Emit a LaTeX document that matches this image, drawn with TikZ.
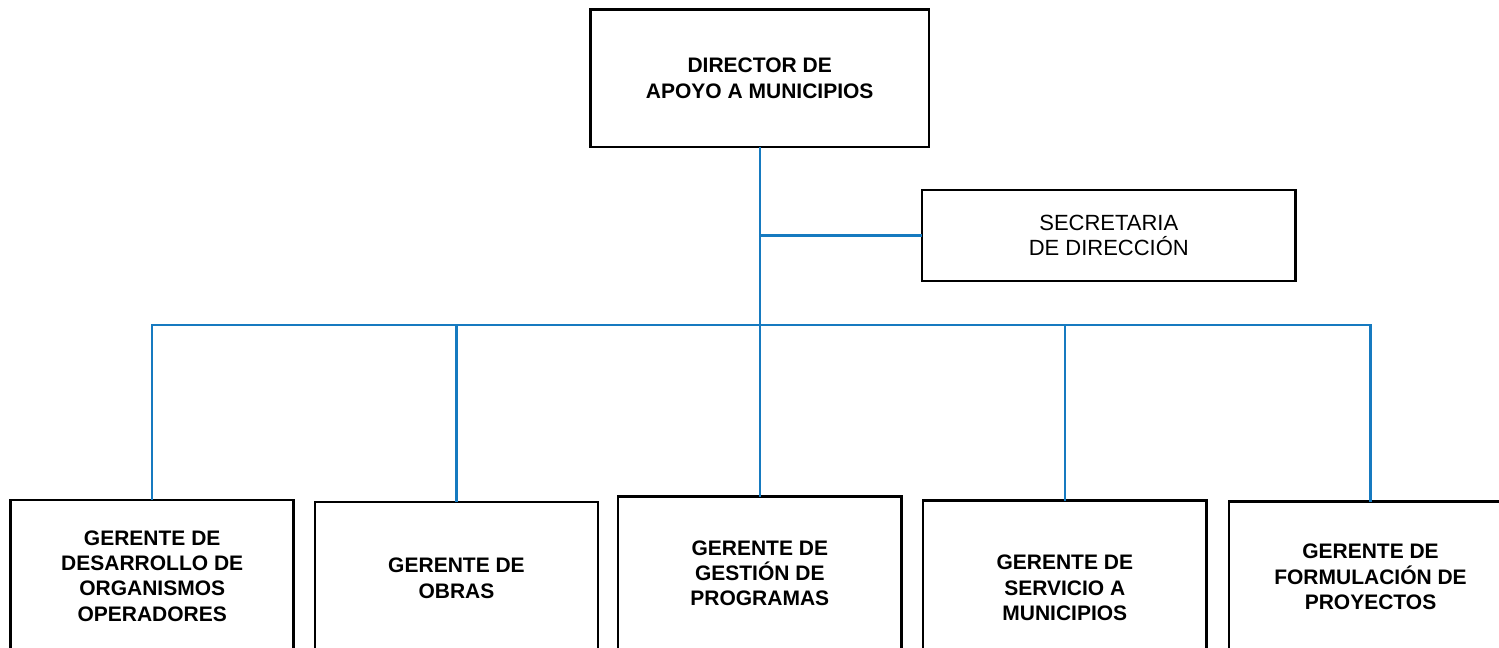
\documentclass[tikz,border=0pt]{standalone}
\usepackage{fontspec}
\setmainfont{Liberation Sans}
\definecolor{linkblue}{RGB}{22,122,192}
\begin{document}
\begin{tikzpicture}[x=0.75pt,y=-0.75pt,
  box/.style 2 args={draw=black,line width=2pt,rectangle,align=center,
    inner sep=0pt,outer sep=0pt,
    minimum width={#1*0.75pt},minimum height={#2*0.75pt}},
  boldtext/.style={font=\fontsize{15.75}{19.1}\selectfont\bfseries},
  regtext/.style={font=\fontsize{16.5}{19}\selectfont},
  link/.style={draw=linkblue,line width=1.7pt}]
\useasboundingbox (0,0) rectangle (1499,648);
\node[box={338.5}{137.5},boldtext] (dir) at (759.7,78.4) {DIRECTOR DE\\APOYO A MUNICIPIOS};
\node[box={373.7}{91},regtext] (sec) at (1108.8,235.5) {SECRETARIA\\DE DIRECCIÓN};
\node[box={283}{152},boldtext] (g1) at (152.2,576) {GERENTE DE\\DESARROLLO DE\\ORGANISMOS\\OPERADORES};
\node[box={283}{153},boldtext] (g2) at (456.5,578.5) {GERENTE DE\\OBRAS};
\node[box={283.7}{153.2},boldtext] (g3) at (759.8,573.3) {GERENTE DE\\GESTIÓN DE\\PROGRAMAS};
\node[box={283.5}{174.6},boldtext] (g4) at (1064.8,588) {GERENTE DE\\SERVICIO A\\MUNICIPIOS};
\node[box={283}{150.6},boldtext] (g5) at (1370.5,577) {GERENTE DE\\FORMULACIÓN DE\\PROYECTOS};
\coordinate (bus) at (760,325);
\draw[link] (dir.south) -- (dir.south |- g3.north);
\draw[link] (dir.south |- sec.west) -- (sec.west);
\draw[link] (g1.north) |- (bus);
\draw[link] (g2.north) |- (bus);
\draw[link] (g4.north) |- (bus);
\draw[link] (g5.north) |- (bus);
\end{tikzpicture}
\end{document}
